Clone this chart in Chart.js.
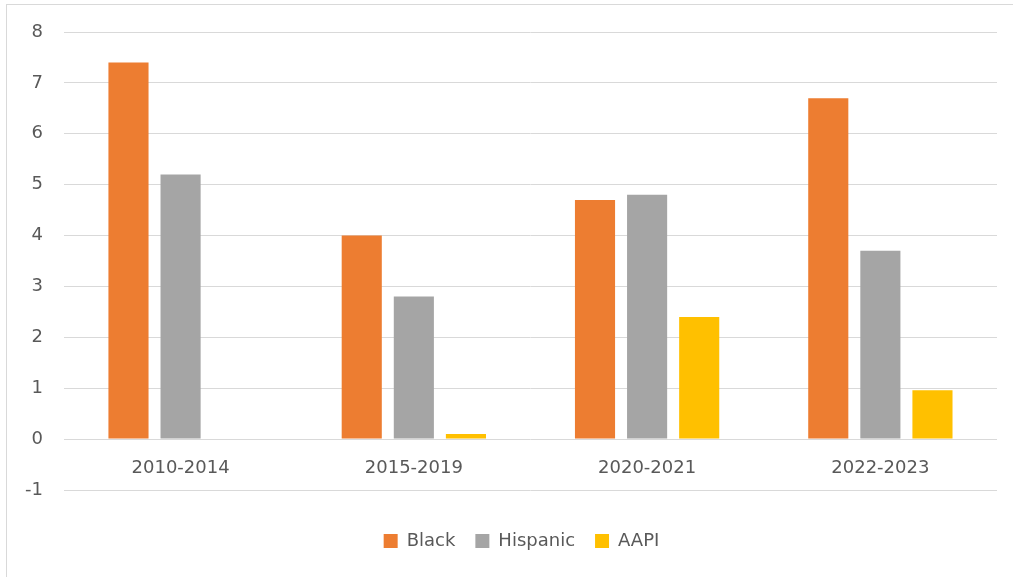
<!DOCTYPE html>
<html>
<head>
<meta charset="utf-8">
<script src="https://cdn.jsdelivr.net/npm/chart.js@4.4.1/dist/chart.umd.min.js"></script>
<style>
  html, body { margin: 0; padding: 0; background: #fff; }
  #frame {
    position: absolute; left: 6px; top: 4px; width: 1010px; height: 580px;
    border: 1px solid #d9d9d9;
  }
  #wrap { position: absolute; left: 0; top: 0; width: 1013px; height: 577px; }
</style>
</head>
<body>
<div id="frame"></div>
<div id="wrap"><canvas id="barChart" width="1013" height="577"></canvas></div>
<script>
// Periods and values per group
const periods = ['2010-2014', '2015-2019', '2020-2021', '2022-2023'];
const blackValues = [7.4, 4.0, 4.7, 6.7];
const hispanicValues = [5.2, 2.8, 4.8, 3.7];
const aapiValues = [0, 0.1, 2.4, 0.96];
const yTicks = [-1, 0, 1, 2, 3, 4, 5, 6, 7, 8];

const textColor = '#595959';
const fontFamily = '"DejaVu Sans", sans-serif';

// Category labels sit just under the zero line, like an axis crossing at 0
const zeroAxisLabels = {
    id: 'zeroAxisLabels',
    afterDraw(chart) {
        const ctx = chart.ctx;
        const xScale = chart.scales.x;
        const yScale = chart.scales.y;
        const y0 = yScale.getPixelForValue(0);
        ctx.save();
        ctx.font = '18px ' + fontFamily;
        ctx.fillStyle = textColor;
        ctx.textAlign = 'center';
        ctx.textBaseline = 'middle';
        periods.forEach((label, i) => {
            ctx.fillText(label, xScale.getPixelForValue(i), y0 + 29);
        });
        ctx.restore();
    }
};

// Nudge the legend a bit lower and to the right of its default box
const legendOffset = {
    id: 'legendOffset',
    afterLayout(chart) {
        const lg = chart.legend;
        if (!lg) return;
        lg.left += 21;
        lg.right += 21;
        lg.top += 22;
        lg.bottom += 22;
    }
};

const ctx = document.getElementById('barChart').getContext('2d');
new Chart(ctx, {
    type: 'bar',
    data: {
        labels: periods,
        datasets: [
            { label: 'Black', data: blackValues, backgroundColor: '#ED7D31' },
            { label: 'Hispanic', data: hispanicValues, backgroundColor: '#A5A5A5' },
            { label: 'AAPI', data: aapiValues, backgroundColor: '#FFC000' }
        ]
    },
    options: {
        responsive: false,
        animation: false,
        layout: { padding: { left: 4, right: 16, top: 32, bottom: 39 } },
        datasets: {
            bar: { categoryPercentage: 0.67, barPercentage: 0.77, borderWidth: 0 }
        },
        plugins: {
            tooltip: { enabled: false },
            legend: {
                position: 'bottom',
                labels: {
                    color: textColor,
                    font: { family: fontFamily, size: 18 },
                    boxWidth: 14,
                    boxHeight: 14,
                    padding: 20
                }
            }
        },
        scales: {
            x: {
                display: false
            },
            y: {
                min: -1,
                max: 8,
                afterBuildTicks(scale) {
                    scale.ticks = yTicks.map(v => ({ value: v }));
                },
                border: { display: false },
                grid: { color: '#D9D9D9', lineWidth: 1, drawTicks: false },
                ticks: {
                    color: textColor,
                    font: { family: fontFamily, size: 18 },
                    padding: 21
                }
            }
        }
    },
    plugins: [zeroAxisLabels, legendOffset]
});
</script>
</body>
</html>
